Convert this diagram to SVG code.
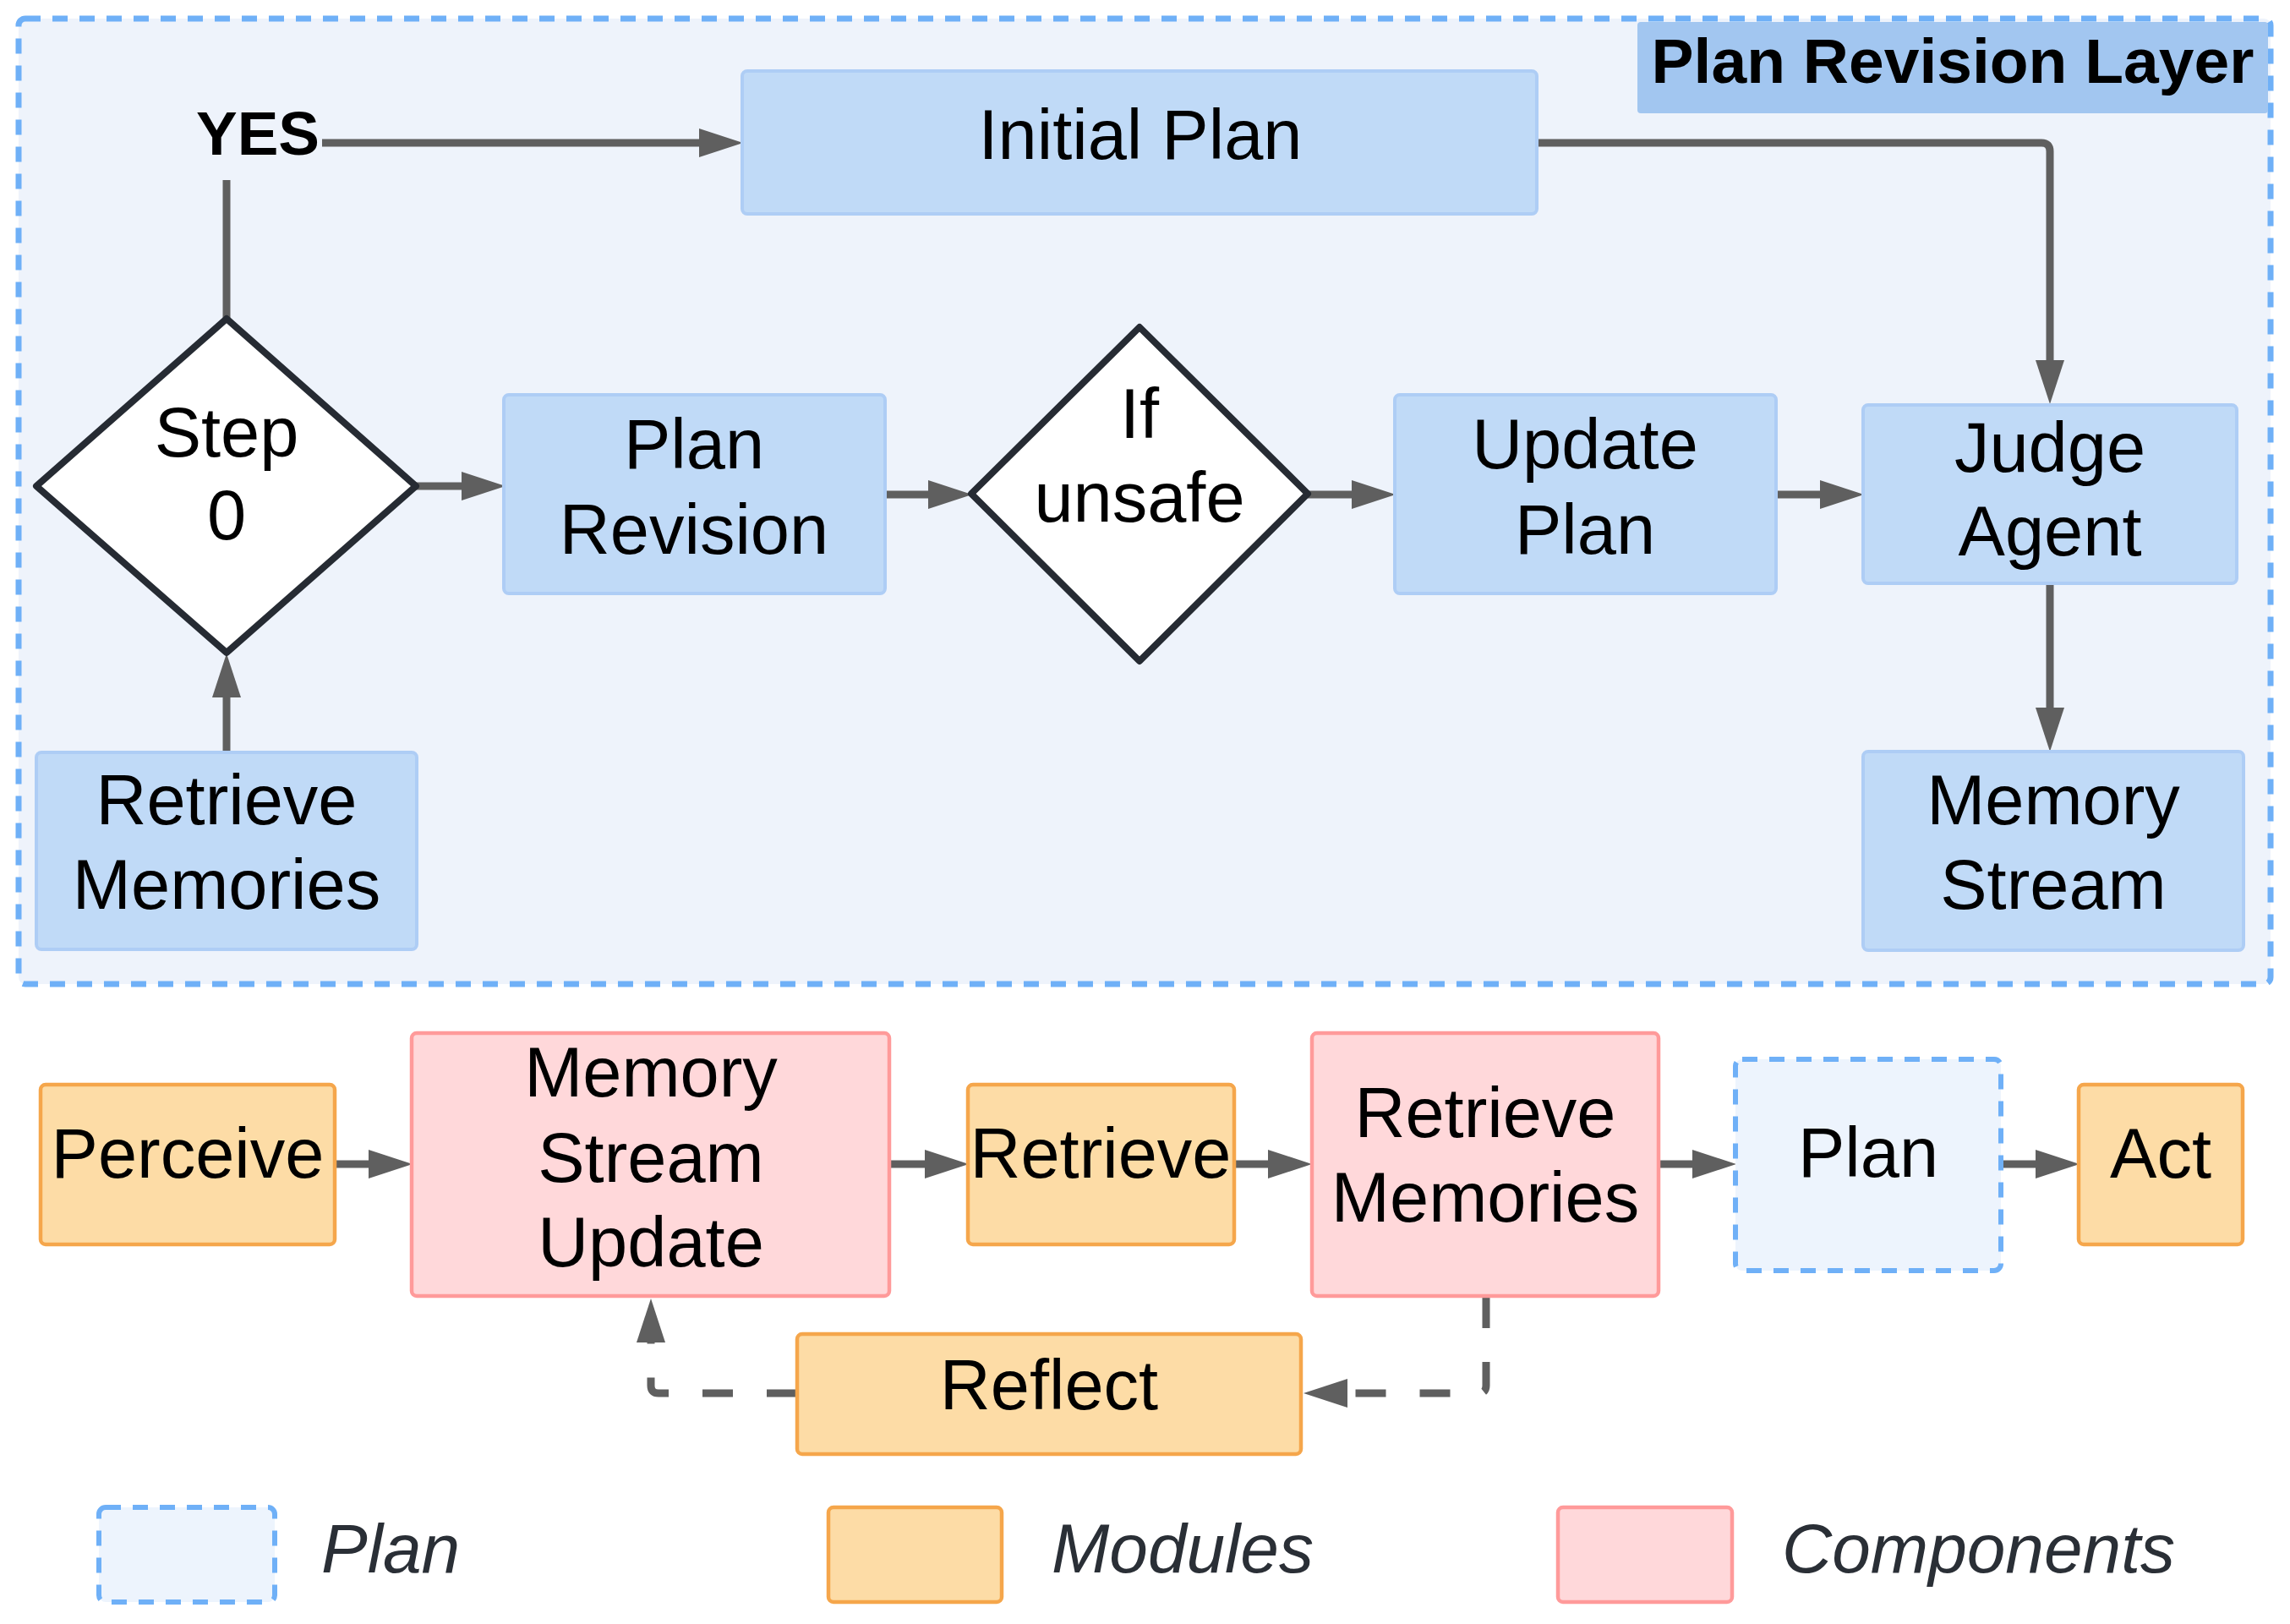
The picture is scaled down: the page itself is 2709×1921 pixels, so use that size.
<svg xmlns="http://www.w3.org/2000/svg" width="2709" height="1921" viewBox="0 0 2709 1921">
<defs>
<marker id="arr" markerUnits="userSpaceOnUse" markerWidth="60" markerHeight="40" refX="0" refY="20" orient="auto" overflow="visible">
<path d="M0,3 L52,20 L0,37 z" fill="#5f5f5f"/>
</marker>
<style>
.t{font-family:"Liberation Sans",Arial,sans-serif;font-size:83px;fill:#000;text-anchor:middle}
.blue{fill:#c0daf7;stroke:#aecdf5;stroke-width:4}
.orange{fill:#fddca6;stroke:#f5a64b;stroke-width:4.5}
.pink{fill:#ffd8da;stroke:#ff9a9a;stroke-width:4.5}
.plan{fill:#edf4fd;stroke:#6fb0f7;stroke-width:6;stroke-dasharray:18 14}
.dia{fill:#fff;stroke:#262b33;stroke-width:8;stroke-linejoin:round}
.c{fill:none;stroke:#5f5f5f;stroke-width:9}
.a{marker-end:url(#arr)}
.d{stroke-dasharray:36 40}
.lg{font-family:"Liberation Sans",Arial,sans-serif;font-size:82px;font-style:italic;fill:#2a2f36}
</style>
</defs>
<rect width="2709" height="1921" fill="#fff"/>

<g id="container">
<rect x="22" y="22" width="2664" height="1142" rx="8" fill="#eef3fb" stroke="#6fb0f7" stroke-width="7" stroke-dasharray="18 14"/>
</g>
<g id="title">
<rect x="1937" y="26" width="746" height="108" rx="4" fill="#a2c6f0"/>
<text x="2310" y="98" style="font-family:'Liberation Sans',Arial,sans-serif;font-size:75px;font-weight:bold;text-anchor:middle">Plan Revision Layer</text>
</g>

<g id="connectors">
<path class="c" d="M268,377 V213"/>
<path class="c a" d="M381,169 H827"/>
<path class="c a" d="M1818,169 H2415 Q2425,169 2425,179 V426"/>
<path class="c a" d="M491,575 H546"/>
<path class="c a" d="M1047,585 H1098"/>
<path class="c a" d="M1547,585 H1599"/>
<path class="c a" d="M2101,585 H2153"/>
<path class="c a" d="M2425,690 V837"/>
<path class="c a" d="M268,890 V825"/>
<path class="c a" d="M396,1377 H436"/>
<path class="c a" d="M1052,1377 H1094"/>
<path class="c a" d="M1460,1377 H1500"/>
<path class="c a" d="M1962,1377 H2002"/>
<path class="c a" d="M2367,1377 H2408"/>
<path class="c a d" d="M1758,1535 V1639 Q1758,1648 1749,1648 H1594"/>
<path class="c a d" d="M943,1648 H779 Q770,1648 770,1639 V1588"/>
</g>

<g id="yes-label">
<text x="305" y="183" style="font-family:'Liberation Sans',Arial,sans-serif;font-size:73px;font-weight:bold;text-anchor:middle">YES</text>
</g>

<g id="initial-plan">
<rect class="blue" x="878" y="84" width="940" height="169" rx="6"/>
<text class="t" x="1349" y="188">Initial Plan</text>
</g>
<g id="step0">
<polygon class="dia" points="268,377 492,575 268,772 43,575"/>
<text class="t" x="268" y="540">Step</text>
<text class="t" x="268" y="638">0</text>
</g>
<g id="plan-revision">
<rect class="blue" x="596" y="467" width="451" height="235" rx="6"/>
<text class="t" x="821" y="554">Plan</text>
<text class="t" x="821" y="655">Revision</text>
</g>
<g id="if-unsafe">
<polygon class="dia" points="1348,387 1547,584 1348,782 1149,584"/>
<text class="t" x="1348" y="518">If</text>
<text class="t" x="1348" y="617">unsafe</text>
</g>
<g id="update-plan">
<rect class="blue" x="1650" y="467" width="451" height="235" rx="6"/>
<text class="t" x="1875" y="554">Update</text>
<text class="t" x="1875" y="655">Plan</text>
</g>
<g id="judge-agent">
<rect class="blue" x="2204" y="479" width="442" height="211" rx="6"/>
<text class="t" x="2425" y="558">Judge</text>
<text class="t" x="2425" y="657">Agent</text>
</g>
<g id="memory-stream">
<rect class="blue" x="2204" y="889" width="450" height="235" rx="6"/>
<text class="t" x="2429" y="975">Memory</text>
<text class="t" x="2429" y="1075">Stream</text>
</g>
<g id="retrieve-memories-top">
<rect class="blue" x="43" y="890" width="450" height="233" rx="6"/>
<text class="t" x="268" y="975">Retrieve</text>
<text class="t" x="268" y="1075">Memories</text>
</g>

<g id="perceive">
<rect class="orange" x="48" y="1283" width="348" height="189" rx="6"/>
<text class="t" x="222" y="1393">Perceive</text>
</g>
<g id="memory-stream-update">
<rect class="pink" x="487" y="1222" width="565" height="311" rx="6"/>
<text class="t" x="770" y="1297">Memory</text>
<text class="t" x="770" y="1398">Stream</text>
<text class="t" x="770" y="1498">Update</text>
</g>
<g id="retrieve">
<rect class="orange" x="1145" y="1283" width="315" height="189" rx="6"/>
<text class="t" x="1302" y="1393">Retrieve</text>
</g>
<g id="retrieve-memories">
<rect class="pink" x="1552" y="1222" width="410" height="311" rx="6"/>
<text class="t" x="1757" y="1345">Retrieve</text>
<text class="t" x="1757" y="1445">Memories</text>
</g>
<g id="plan">
<rect class="plan" x="2053" y="1253" width="314" height="250" rx="8"/>
<text class="t" x="2210" y="1392">Plan</text>
</g>
<g id="act">
<rect class="orange" x="2459" y="1283" width="194" height="189" rx="6"/>
<text class="t" x="2556" y="1393">Act</text>
</g>
<g id="reflect">
<rect class="orange" x="943" y="1578" width="596" height="142" rx="6"/>
<text class="t" x="1241" y="1667">Reflect</text>
</g>

<g id="legend">
<rect class="plan" x="117" y="1783" width="208" height="112" rx="8"/>
<text class="lg" x="380" y="1860">Plan</text>
<rect class="orange" x="980" y="1783" width="205" height="112" rx="6"/>
<text class="lg" x="1244" y="1860">Modules</text>
<rect class="pink" x="1843" y="1783" width="206" height="112" rx="6"/>
<text class="lg" x="2108" y="1860">Components</text>
</g>
</svg>
